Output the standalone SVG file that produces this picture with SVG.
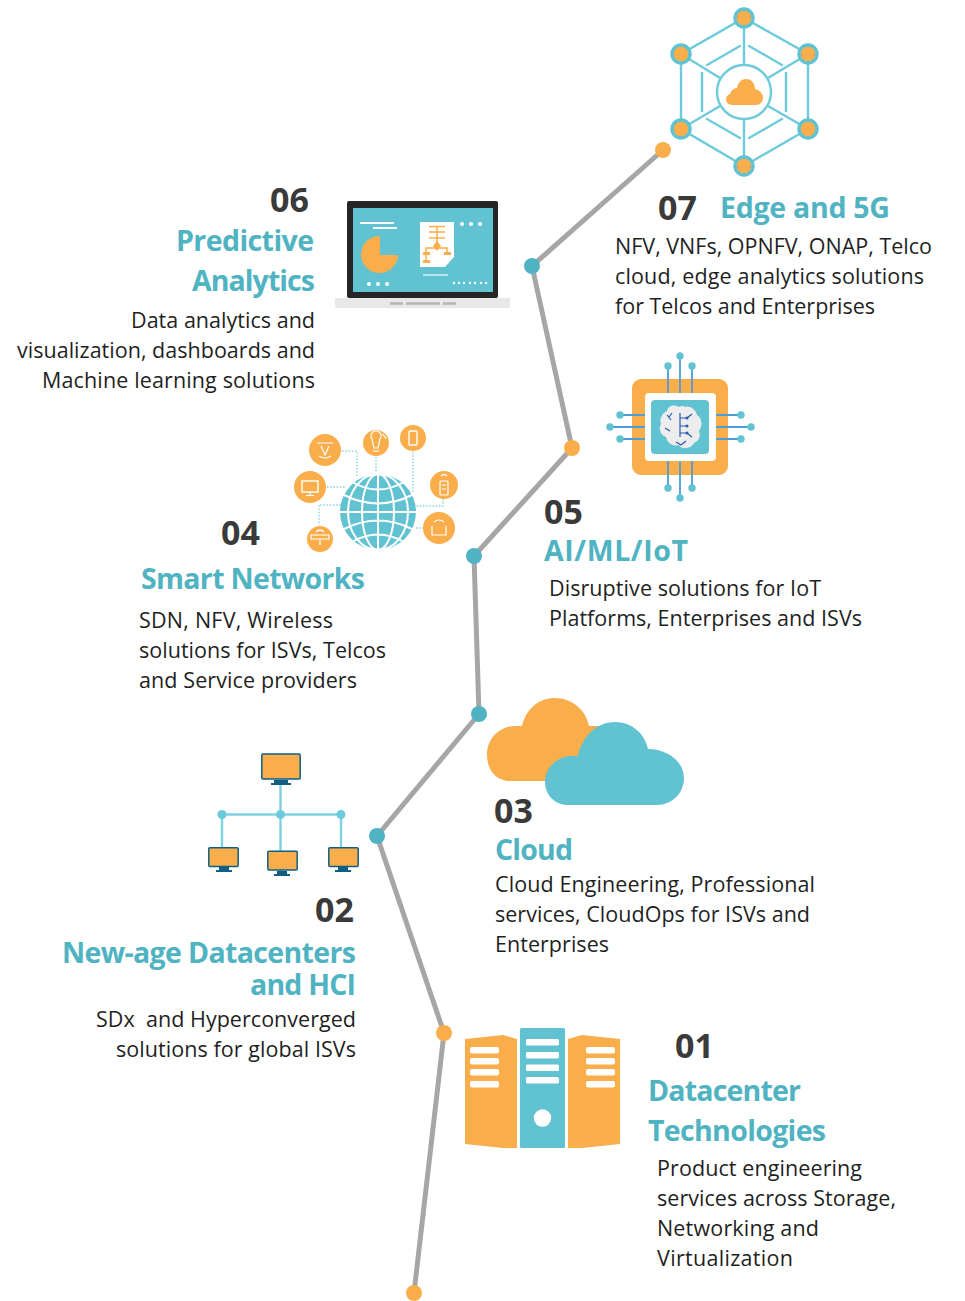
<svg xmlns="http://www.w3.org/2000/svg" width="965" height="1301" viewBox="0 0 965 1301">
<style>
text{font-family:"Open Sans","Noto Sans","Liberation Sans",sans-serif;white-space:pre}
.n{font-size:34px;font-weight:700;fill:#3a3a3a}
.h{font-size:28.5px;font-weight:700;fill:#4fb3c2}
.b{font-size:21.5px;fill:#1f1f1f}
.e{text-anchor:end}
.o{fill:#f9ae4b}.t{fill:#61c2d2}.w{fill:#fff}
.l{stroke:#6ecbdc;fill:none;stroke-width:2.2}
.p{stroke:#4d9dd6;fill:none;stroke-width:1.8}
.d{stroke:#8fd5e0;fill:none;stroke-width:1.4;stroke-dasharray:1.6 1.6}
.m{fill:#0f5f85}
</style>
<rect width="965" height="1301" fill="#fff"/>
<g id="connectors">
<polyline points="414,1293 444,1033 377,836 479,714 474,556 572,448 532,266 663,150" fill="none" stroke="#a6a6a6" stroke-width="5"/>
<circle cx="414" cy="1293" r="8" class="o"/><circle cx="444" cy="1033" r="8" class="o"/><circle cx="377" cy="836" r="8" fill="#4fb3c4"/><circle cx="479" cy="714" r="8" fill="#4fb3c4"/><circle cx="474" cy="556" r="8" fill="#4fb3c4"/><circle cx="572" cy="448" r="8" class="o"/><circle cx="532" cy="266" r="8" fill="#4fb3c4"/><circle cx="663" cy="150" r="8" class="o"/>
</g>
<g id="node-07">
<g class="l" style="stroke-width:2.4">
<path d="M744,18L808,54V129L744,166L681,129V54ZM744,18V65M744,119V166M681,54L720,78M808,54L768,78M681,129L720,106M808,129L768,106"/>
<circle cx="744" cy="92" r="27"/>
<path d="M707,65L740,46M749,46L782,65M702,73V111M786,73V111M707,119L740,138M749,138L782,119" stroke-linecap="round"/>
</g>
<g class="o" stroke="#61c2d2" stroke-width="3.5"><circle cx="744" cy="18" r="9"/><circle cx="808" cy="54" r="9"/><circle cx="808" cy="129" r="9"/><circle cx="744" cy="166" r="9"/><circle cx="681" cy="129" r="9"/><circle cx="681" cy="54" r="9"/></g>
<path class="o" d="M732,105C725,105 724,96 730,94C731,90 735,88 737,88C738,82 742,79 746,79C752,79 755,84 755,89C760,90 763,94 763,98C763,102 760,105 756,105Z"/>
<text class="n" x="658" y="220">07</text><text class="h" x="720" y="218" textLength="170">Edge and 5G</text>
<text class="b" x="615" y="254" textLength="317">NFV, VNFs, OPNFV, ONAP, Telco</text><text class="b" x="615" y="284" textLength="309">cloud, edge analytics solutions</text><text class="b" x="615" y="314" textLength="260">for Telcos and Enterprises</text>
</g>
<g id="node-06">
<rect x="347" y="201" width="151" height="97" rx="2" fill="#262626"/>
<rect x="353" y="208" width="140" height="84" fill="#61c2d2"/>
<path d="M335,298H510V306Q510,308 508,308H337Q335,308 335,306Z" fill="#e8e8e8"/>
<path d="M390,303.5H403M406,303.5H440M443,303.5H456" stroke="#b5b5b5" stroke-width="2.4"/>
<path d="M360,223H394M373,228H397" stroke="#fff" stroke-width="2"/>
<path d="M423,275H448" stroke="#d8f1f5" stroke-width="1.5"/>
<path class="o" d="M380,236A18.500,18.500 0 1 0 398,255H380Z"/>
<path class="w" d="M420,222H454V257L445,267H420Z"/>
<path d="M429,226.500H445M429,232H445M429,238H445M437,226V250M426,253V261M447,253H447M426,253V248H447V253" stroke="#f9ae4b" stroke-width="1.500" fill="none"/>
<path class="o" d="M437,241L441,246L437,251L433,246ZM423,252H430V255H423ZM444,252H451V255H444ZM423,260H430V263H423Z"/>
<g class="w"><circle cx="369" cy="284" r="2"/><circle cx="378" cy="284" r="2"/><circle cx="387" cy="284" r="2"/><circle cx="462" cy="224" r="2"/><circle cx="471" cy="224" r="2"/><circle cx="480" cy="224" r="2"/><circle cx="454" cy="283" r="1.200"/><circle cx="459" cy="283" r="1.200"/><circle cx="464" cy="283" r="1.200"/><circle cx="470" cy="283" r="1.200"/><circle cx="475" cy="283" r="1.200"/><circle cx="481" cy="283" r="1.200"/><circle cx="486" cy="283" r="1.200"/></g>
<text class="n e" x="309" y="212">06</text><text class="h e" x="314" y="251" textLength="138">Predictive</text><text class="h e" x="315" y="291" textLength="123">Analytics</text>
<text class="b e" x="315" y="328" textLength="184">Data analytics and</text><text class="b e" x="315" y="358" textLength="298">visualization, dashboards and</text><text class="b e" x="315" y="388" textLength="273">Machine learning solutions</text>
</g>
<g id="node-05">
<path class="p" d="M668,366V379M680,356V379M692,366V379M668,475V488M680,475V498M692,475V488M620,415H632M610,427H632M620,439H632M728,415H741M728,427H751M728,439H741"/>
<rect x="632" y="379" width="96" height="96" rx="9" class="o"/>
<path class="p" d="M668,379V393M680,379V393M692,379V393M668,461V475M680,461V475M692,461V475M632,415H645M632,427H645M632,439H645M716,415H728M716,427H728M716,439H728"/>
<rect x="645" y="393" width="71" height="68" rx="4" class="w"/>
<rect x="651" y="400" width="58" height="54" rx="4" class="t"/>
<g class="t"><circle cx="668" cy="366" r="3.700"/><circle cx="680" cy="356" r="3.700"/><circle cx="692" cy="366" r="3.700"/><circle cx="668" cy="488" r="3.700"/><circle cx="680" cy="498" r="3.700"/><circle cx="692" cy="488" r="3.700"/><circle cx="620" cy="415" r="3.700"/><circle cx="610" cy="427" r="3.700"/><circle cx="620" cy="439" r="3.700"/><circle cx="741" cy="415" r="3.700"/><circle cx="751" cy="427" r="3.700"/><circle cx="741" cy="439" r="3.700"/></g>
<path d="M679,407C674,404 668,406 667,411C662,413 659,419 661,424C658,429 661,436 666,437C667,443 673,447 679,445C682,450 691,449 694,443C699,441 701,436 699,431C703,426 702,418 697,415C696,410 690,405 685,407Q682,405 679,407Z" fill="#ededed"/>
<path d="M680,413V437M680,418H687M680,426H687M680,433H687M687,418L692,414M687,433L692,437M667,415L671,420M665,428L670,431M676,442L681,445M681,445L686,441M672,413L669,417" stroke="#2a58b0" stroke-width="1.200" fill="none"/>
<g fill="#2a58b0"><circle cx="687" cy="418" r="1.500"/><circle cx="687" cy="426" r="1.500"/><circle cx="687" cy="433" r="1.500"/></g>
<text class="n" x="544" y="524">05</text><text class="h" x="544" y="561" textLength="144">AI/ML/IoT</text>
<text class="b" x="549" y="596" textLength="272">Disruptive solutions for IoT</text><text class="b" x="549" y="626" textLength="313">Platforms, Enterprises and ISVs</text>
</g>
<g id="node-04">
<path class="d" d="M342,451H357V476M327,487H345M413,452V492M376,457V474M443,499V506H416M416,528H424M341,505H319V525"/>
<circle cx="378" cy="512" r="38" class="t"/>
<g fill="none" stroke="#fff" stroke-width="2"><ellipse cx="378" cy="512" rx="16" ry="38"/><ellipse cx="378" cy="512" rx="30" ry="38"/><path d="M378,474V550M340,512H416M344,495Q378,512 412,495M344,529Q378,512 412,529M352,482Q378,497 404,482M352,542Q378,527 404,542"/></g>
<g class="o"><circle cx="325" cy="450" r="16"/><circle cx="376" cy="443" r="13"/><circle cx="413" cy="438" r="13"/><circle cx="310" cy="487" r="16"/><circle cx="444" cy="485" r="14"/><circle cx="439" cy="528" r="16"/><circle cx="320" cy="539" r="13"/></g>
<g fill="none" stroke="#fff" stroke-width="1.200"><path d="M317,443H333M321,446L325,455L329,446M319,456Q325,460 331,456"/><path d="M373,451H379M372,439A5,5 0 1 1 380,439L378,448H374ZM382,434Q385,436 386,439"/><rect x="409" y="431" width="8" height="14" rx="1" stroke-width="1.400"/><rect x="302" y="481" width="16" height="11" stroke-width="1.400"/><path d="M310,492V495M306,495.500H314"/><rect x="440" y="481" width="8" height="14" rx="1"/><path d="M441,476Q444,473 447,476M442,485H446M442,489H446"/><path d="M432,526V535H446V526M434,522Q439,518 444,522"/><path d="M311,535H329V539H311ZM320,539V545M316,532Q320,528 324,532"/></g>
<text class="n" x="221" y="545">04</text><text class="h" x="141" y="589" textLength="224">Smart Networks</text>
<text class="b" x="139" y="628" textLength="194">SDN, NFV, Wireless</text><text class="b" x="139" y="658" textLength="247">solutions for ISVs, Telcos</text><text class="b" x="139" y="688" textLength="218">and Service providers</text>
</g>
<g id="node-03">
<path class="o" d="M510,781C496,781 487,770 487,755C487,738 500,726 516,726H522C526,708 540,698 555,698C572,698 586,710 589,726H620V781Z"/>
<path class="t" d="M568,805C555,805 545,795 545,782C545,769 555,758 569,756H578C582,737 596,722 615,722C632,722 645,734 648,749C668,749 684,762 684,778C684,793 672,805 657,805Z"/>
<text class="n" x="494" y="823">03</text><text class="h" x="495" y="860" textLength="78">Cloud</text>
<text class="b" x="495" y="892" textLength="320">Cloud Engineering, Professional</text><text class="b" x="495" y="922" textLength="315">services, CloudOps for ISVs and</text><text class="b" x="495" y="952" textLength="114">Enterprises</text>
</g>
<g id="node-02">
<path d="M280.500,785V871M222,814.500H341M222,814.500V848M341,814.500V848" stroke="#7fd2e0" stroke-width="2.400" fill="none"/>
<g fill="#6ccbdb"><circle cx="222" cy="814.500" r="4.500"/><circle cx="280.500" cy="814.500" r="4.500"/><circle cx="341" cy="814.500" r="4.500"/></g>
<g class="m"><path d="M274,780H288V783H291V785H271V783H274Z"/><path d="M219,867H229V870H232V872H216V870H219Z"/><path d="M277,871H287V874H290V876H274V874H277Z"/><path d="M338,867H348V870H351V872H335V870H338Z"/></g>
<g class="o" stroke="#0f5f85" stroke-width="1.500"><rect x="261.800" y="754" width="38.400" height="25" rx="1"/><rect x="208.800" y="847.800" width="29.400" height="18.700" rx="1"/><rect x="267.800" y="851.300" width="29.400" height="18.700" rx="1"/><rect x="328.800" y="847.800" width="29.400" height="18.700" rx="1"/></g>
<text class="n e" x="354" y="922">02</text><text class="h e" x="356" y="963" textLength="294">New-age Datacenters</text><text class="h e" x="356" y="995" textLength="106">and HCI</text>
<text class="b e" x="356" y="1027" textLength="260">SDx  and Hyperconverged</text><text class="b e" x="356" y="1057" textLength="240">solutions for global ISVs</text>
</g>
<g id="node-01">
<path class="o" d="M465,1039L503,1035L517,1039V1148L503,1148L465,1144Z"/>
<rect x="520" y="1028" width="45" height="120" rx="1.500" class="t"/>
<path class="o" d="M568,1039L582,1035L620,1039V1144L582,1148L568,1148Z"/>
<g class="w"><rect x="470" y="1047" width="29" height="6.500" rx="2"/><rect x="470" y="1058" width="29" height="6.500" rx="2"/><rect x="470" y="1069" width="29" height="6.500" rx="2"/><rect x="470" y="1081" width="29" height="6.500" rx="2"/>
<rect x="526" y="1039" width="33" height="6.500" rx="1.500"/><rect x="526" y="1052" width="33" height="6.500" rx="1.500"/><rect x="526" y="1064.500" width="33" height="6.500" rx="1.500"/><rect x="526" y="1077" width="33" height="6.500" rx="1.500"/><circle cx="542.500" cy="1118" r="8.700"/>
<rect x="586" y="1047" width="29" height="6.500" rx="2"/><rect x="586" y="1058" width="29" height="6.500" rx="2"/><rect x="586" y="1069" width="29" height="6.500" rx="2"/><rect x="586" y="1081" width="29" height="6.500" rx="2"/></g>
<text class="n" x="675" y="1058">01</text><text class="h" x="648" y="1101" textLength="153">Datacenter</text><text class="h" x="648" y="1141" textLength="178">Technologies</text>
<text class="b" x="657" y="1176" textLength="205">Product engineering</text><text class="b" x="657" y="1206" textLength="239">services across Storage,</text><text class="b" x="657" y="1236" textLength="162">Networking and</text><text class="b" x="657" y="1266" textLength="136">Virtualization</text>
</g>
</svg>
